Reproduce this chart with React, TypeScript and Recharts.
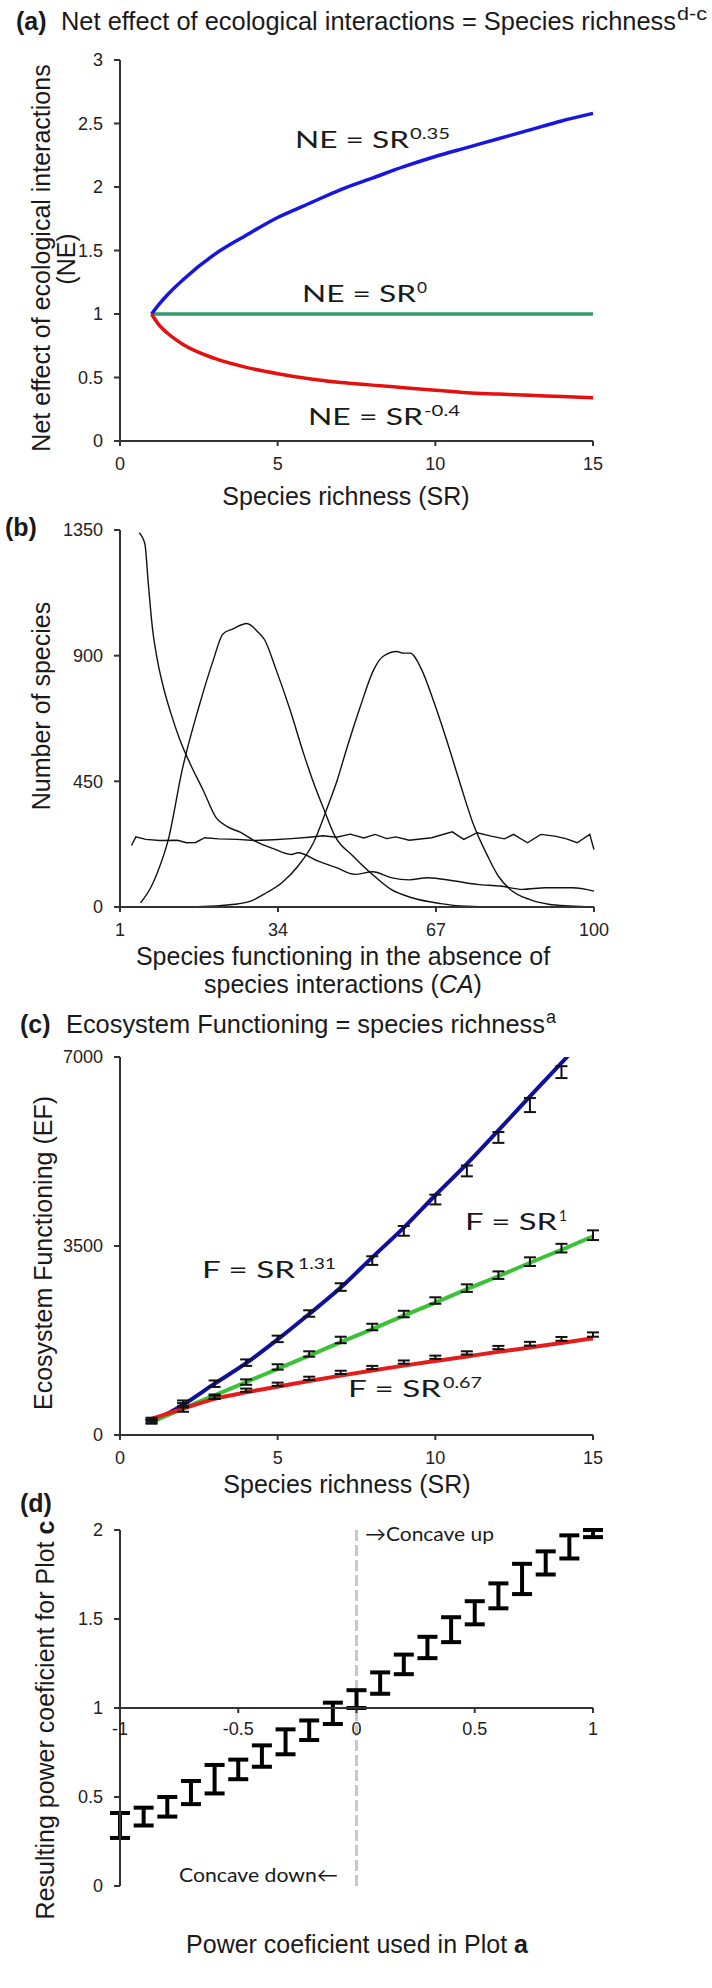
import React from "react"
import { LineChart, ComposedChart, Line, Scatter, ErrorBar, XAxis, YAxis, ReferenceLine } from "recharts"

// ---- (a) net effect of interactions vs species richness
const aSR = [1, 1.25, 1.5, 2, 3, 4, 5, 6, 7, 8, 9, 10, 11, 12, 13, 14, 15]
const aPositive = [1, 1.08, 1.15, 1.27, 1.47, 1.62, 1.76, 1.87, 1.98, 2.07, 2.16, 2.24, 2.31, 2.38, 2.45, 2.52, 2.58]
const aNeutral = [1, 1, 1, 1, 1, 1, 1, 1, 1, 1, 1, 1, 1, 1, 1, 1, 1]
const aNegative = [1, 0.91, 0.85, 0.76, 0.65, 0.58, 0.53, 0.49, 0.46, 0.44, 0.42, 0.4, 0.38, 0.37, 0.36, 0.35, 0.34]

// ---- (b) distributions of CA (one x list per curve)
const bDecayX = [5, 6.2, 6.9, 7.8, 8.8, 10.2, 11.6, 13.5, 15.9, 18.3, 21.1, 23.5, 26.3, 29.2, 33, 36.8, 38.2, 42.4, 46.2, 50, 53.8, 57.6, 61.4, 65.2, 70.9, 75.6, 80.4, 85.1, 89.9, 95.5, 100]
const bDecayY = [1340, 1300, 1160, 995, 885, 778, 695, 599, 504, 421, 319, 287, 266, 236, 209, 188, 194, 164, 141, 117, 126, 105, 97, 105, 93, 81, 75, 63, 69, 69, 57]
const bLowX = [5.3, 7.4, 8.8, 11.1, 14, 17.5, 20.5, 22.5, 24.5, 27.5, 29.8, 31.2, 33.6, 36.5, 39.3, 41.2, 43.6, 45.9, 49.7, 53.3, 57.6, 62, 68, 72, 80, 100]
const bLowY = [15, 69, 123, 242, 492, 718, 885, 978, 995, 1015, 985, 957, 850, 707, 552, 456, 349, 254, 182, 123, 63, 33, 12, 4, 0, 0]
const bHighX = [1, 17, 25, 28.3, 31.6, 34.8, 38.2, 41.4, 44.4, 46.4, 48.3, 51.2, 54, 55.9, 58.8, 60.2, 61.6, 64, 66.4, 69.2, 72, 74.7, 77.8, 80, 82.5, 86.5, 90.5, 95, 100]
const bHighY = [0, 1, 10, 21, 51, 87, 147, 230, 361, 456, 564, 718, 850, 897, 915, 909, 909, 850, 742, 599, 444, 301, 182, 111, 63, 27, 10, 4, 1]
const bFlatX = [3.4, 4.3, 6.4, 9.3, 13, 14.9, 16.8, 18.7, 21.6, 25.4, 29.2, 33, 36.8, 40.5, 43.4, 46.2, 49.1, 51.9, 54.3, 56.7, 58.6, 61.4, 66.1, 70.4, 72.8, 75.6, 78.5, 81.3, 83.2, 86.1, 88.9, 91.8, 94.1, 96.5, 99.1, 100]
const bFlatY = [220, 251, 242, 238, 239, 230, 231, 248, 244, 242, 238, 241, 245, 250, 255, 250, 261, 247, 260, 245, 251, 239, 248, 269, 242, 266, 254, 244, 260, 230, 260, 254, 245, 230, 260, 206]

// ---- (c) ecosystem functioning vs species richness
const cSR = [1, 2, 3, 4, 5, 6, 7, 8, 9, 10, 11, 12, 13, 14, 15]
const cBlueFit = [230, 560, 950, 1330, 1770, 2240, 2730, 3290, 3840, 4440, 5020, 5640, 6270, 6890, 7520]
const cGreenFit = [240, 490, 735, 980, 1225, 1470, 1720, 1960, 2210, 2450, 2700, 2940, 3190, 3430, 3680]
const cRedFit = [300, 490, 670, 790, 895, 1000, 1100, 1195, 1285, 1370, 1455, 1540, 1620, 1705, 1790]
const cBlueMean = [250, 590, 950, 1340, 1780, 2250, 2740, 3230, 3780, 4360, 4890, 5510, 6110, 6720]
const cBlueErr = [40, 50, 60, 60, 60, 60, 70, 80, 90, 90, 100, 100, 130, 110]
const cGreenMean = [250, 470, 710, 980, 1260, 1500, 1760, 2000, 2240, 2490, 2720, 2960, 3210, 3460, 3700]
const cGreenErr = [30, 40, 40, 50, 50, 50, 60, 60, 60, 60, 70, 70, 80, 80, 90]
const cRedMean = [290, 560, 700, 830, 940, 1050, 1160, 1250, 1350, 1440, 1520, 1620, 1690, 1780, 1860]
const cRedErr = [30, 30, 30, 30, 30, 30, 30, 30, 30, 30, 30, 30, 35, 35, 40]

// ---- (d) resulting power coefficient
const dCoef = [-1, -0.9, -0.8, -0.7, -0.6, -0.5, -0.4, -0.3, -0.2, -0.1, 0, 0.1, 0.2, 0.3, 0.4, 0.5, 0.6, 0.7, 0.8, 0.9, 1]
const dLow = [0.27, 0.34, 0.39, 0.46, 0.52, 0.6, 0.67, 0.74, 0.82, 0.91, 1.0, 1.08, 1.19, 1.28, 1.37, 1.47, 1.56, 1.64, 1.75, 1.84, 1.96]
const dHigh = [0.41, 0.44, 0.5, 0.59, 0.68, 0.71, 0.79, 0.88, 0.93, 1.03, 1.1, 1.2, 1.3, 1.4, 1.51, 1.6, 1.7, 1.81, 1.88, 1.97, 2.0]

const zip = (xs: number[], ys: number[]) => xs.map((x, i) => ({ x, y: ys[i] }))

const aData = aSR.map((x, i) => ({ x, pos: aPositive[i], neu: aNeutral[i], neg: aNegative[i] }))
const cFit = cSR.map((x, i) => ({ x, blue: cBlueFit[i], green: cGreenFit[i], red: cRedFit[i] }))
const cBlueBars = cBlueMean.map((y, i) => ({ x: cSR[i], y, err: cBlueErr[i] }))
const cGreenBars = cGreenMean.map((y, i) => ({ x: cSR[i], y, err: cGreenErr[i] }))
const cRedBars = cRedMean.map((y, i) => ({ x: cSR[i], y, err: cRedErr[i] }))
const dBars = dCoef.map((x, i) => ({ x, y: (dLow[i] + dHigh[i]) / 2, err: (dHigh[i] - dLow[i]) / 2 }))

const ARIAL = "'Liberation Sans', Arial, sans-serif"
const EQFONT = "Lato, 'Open Sans', sans-serif"
const tick = { fontSize: 18, fill: "#222", fontFamily: ARIAL }
const axisLine = { stroke: "#333", strokeWidth: 2 }
const noShape = () => <g />

const VLabel = ({ x, y, children }: { x: number; y: number; children: React.ReactNode }) => (
  <text transform={`translate(${x},${y}) rotate(-90)`} textAnchor="middle" fontSize={25}>
    {children}
  </text>
)

const Eq = (p: { x: number; y: number; lhs: string; w: number; sup: string; sx: number; sw: number }) => (
  <>
    <text x={p.x} y={p.y} fontFamily={EQFONT} fontSize={23} textLength={p.w} lengthAdjust="spacingAndGlyphs">
      {p.lhs}
    </text>
    <text x={p.sx} y={p.y - 9} fontFamily={EQFONT} fontSize={16} textLength={p.sw} lengthAdjust="spacingAndGlyphs">
      {p.sup}
    </text>
  </>
)

export default function App() {
  const abs = (top: number): React.CSSProperties => ({ position: "absolute", left: 0, top })
  return (
    <div style={{ position: "absolute", left: 0, top: 0, width: 712, height: 1988, background: "#fff" }}>
      <div style={abs(0)}>
        <LineChart width={712} height={491} data={aData} margin={{ top: 60, right: 119, bottom: 20, left: 0 }}>
          <XAxis dataKey="x" type="number" domain={[0, 15]} ticks={[0, 5, 10, 15]} interval={0} height={30} tickSize={5} tickMargin={11} tick={tick} axisLine={axisLine} tickLine={axisLine} />
          <YAxis type="number" domain={[0, 3]} ticks={[0, 0.5, 1, 1.5, 2, 2.5, 3]} interval={0} width={120} tickSize={6} tickMargin={11} tick={tick} axisLine={axisLine} tickLine={axisLine} />
          <Line dataKey="neu" stroke="#2f9e6a" strokeWidth={3.5} dot={false} type="linear" isAnimationActive={false} />
          <Line dataKey="pos" stroke="#1616e0" strokeWidth={3.5} dot={false} type="monotone" isAnimationActive={false} />
          <Line dataKey="neg" stroke="#e41010" strokeWidth={3.5} dot={false} type="monotone" isAnimationActive={false} />
        </LineChart>
      </div>

      <div style={abs(480)}>
        <LineChart width={712} height={477} margin={{ top: 50, right: 118, bottom: 20, left: 0 }}>
          <XAxis dataKey="x" type="number" domain={[1, 100]} ticks={[1, 34, 67, 100]} interval={0} height={30} tickSize={5} tickMargin={11} tick={tick} axisLine={axisLine} tickLine={axisLine} />
          <YAxis type="number" domain={[0, 1350]} ticks={[0, 450, 900, 1350]} interval={0} width={120} tickSize={6} tickMargin={11} tick={tick} axisLine={axisLine} tickLine={axisLine} />
          <Line data={zip(bFlatX, bFlatY)} dataKey="y" stroke="#111" strokeWidth={1.4} dot={false} type="linear" isAnimationActive={false} />
          <Line data={zip(bDecayX, bDecayY)} dataKey="y" stroke="#111" strokeWidth={1.4} dot={false} type="monotone" isAnimationActive={false} />
          <Line data={zip(bLowX, bLowY)} dataKey="y" stroke="#111" strokeWidth={1.4} dot={false} type="monotone" isAnimationActive={false} />
          <Line data={zip(bHighX, bHighY)} dataKey="y" stroke="#111" strokeWidth={1.4} dot={false} type="monotone" isAnimationActive={false} />
        </LineChart>
      </div>

      <div style={abs(1040)}>
        <ComposedChart width={712} height={445} data={cFit} margin={{ top: 17, right: 119, bottom: 20, left: 0 }}>
          <XAxis dataKey="x" type="number" domain={[0, 15]} ticks={[0, 5, 10, 15]} interval={0} height={30} tickSize={5} tickMargin={11} tick={tick} axisLine={axisLine} tickLine={axisLine} />
          <YAxis type="number" domain={[0, 7000]} ticks={[0, 3500, 7000]} interval={0} allowDataOverflow width={120} tickSize={6} tickMargin={11} tick={tick} axisLine={axisLine} tickLine={axisLine} />
          <Line dataKey="blue" stroke="#10109a" strokeWidth={4} dot={false} type="monotone" isAnimationActive={false} />
          <Line dataKey="green" stroke="#3cc236" strokeWidth={4} dot={false} type="monotone" isAnimationActive={false} />
          <Line dataKey="red" stroke="#e41c1c" strokeWidth={4} dot={false} type="monotone" isAnimationActive={false} />
          <Scatter data={cBlueBars} dataKey="y" shape={noShape} isAnimationActive={false}>
            <ErrorBar dataKey="err" direction="y" width={6} strokeWidth={2} stroke="#111" isAnimationActive={false} />
          </Scatter>
          <Scatter data={cGreenBars} dataKey="y" shape={noShape} isAnimationActive={false}>
            <ErrorBar dataKey="err" direction="y" width={6} strokeWidth={2} stroke="#111" isAnimationActive={false} />
          </Scatter>
          <Scatter data={cRedBars} dataKey="y" shape={noShape} isAnimationActive={false}>
            <ErrorBar dataKey="err" direction="y" width={6} strokeWidth={2} stroke="#111" isAnimationActive={false} />
          </Scatter>
        </ComposedChart>
      </div>

      <div style={abs(1500)}>
        <ComposedChart width={712} height={428} data={dBars} margin={{ top: 30, right: 119, bottom: 42, left: 0 }}>
          <XAxis dataKey="x" type="number" domain={[-1, 1]} hide />
          <YAxis type="number" domain={[0, 2]} ticks={[0, 0.5, 1, 1.5, 2]} interval={0} width={120} tickSize={6} tickMargin={11} tick={tick} axisLine={axisLine} tickLine={axisLine} />
          <ReferenceLine x={0} stroke="#c8c8c8" strokeWidth={3} strokeDasharray="11 4" />
          <Scatter dataKey="y" shape={noShape} isAnimationActive={false}>
            <ErrorBar dataKey="err" direction="y" width={10} strokeWidth={4} stroke="#000" isAnimationActive={false} />
          </Scatter>
        </ComposedChart>
      </div>
      <div style={{ ...abs(1500), pointerEvents: "none" }}>
        <LineChart width={712} height={258} data={dBars} margin={{ top: 30, right: 119, bottom: 20, left: 120 }}>
          <XAxis dataKey="x" type="number" domain={[-1, 1]} ticks={[-1, -0.5, 0, 0.5, 1]} interval={0} height={30} tickSize={5} tickMargin={9} tick={tick} axisLine={axisLine} tickLine={axisLine} />
          <YAxis type="number" domain={[1, 2]} hide />
          <Line dataKey="y" stroke="none" dot={false} isAnimationActive={false} />
        </LineChart>
      </div>

      <svg width={712} height={1988} style={{ position: "absolute", left: 0, top: 0, pointerEvents: "none" }} fontFamily={ARIAL} fill="#1a1a1a">
        {/* (a) */}
        <text x={16} y={30} fontSize={25} fontWeight="bold">(a)</text>
        <text x={61} y={30} fontSize={25} textLength={615} lengthAdjust="spacingAndGlyphs">Net effect of ecological interactions = Species richness</text>
        <text x={677} y={20} fontSize={19} textLength={30} lengthAdjust="spacingAndGlyphs">d-c</text>
        <VLabel x={50} y={258}>Net effect of ecological interactions</VLabel>
        <VLabel x={75} y={259}>(NE)</VLabel>
        <text x={346} y={505} fontSize={25} textAnchor="middle">Species richness (SR)</text>
        <Eq x={295} y={148} lhs="NE = SR" w={114} sup="0.35" sx={410} sw={40} />
        <Eq x={302} y={302} lhs="NE = SR" w={114} sup="0" sx={417} sw={10} />
        <Eq x={308} y={425} lhs="NE = SR" w={115} sup="-0.4" sx={424} sw={36} />

        {/* (b) */}
        <text x={5} y={536} fontSize={25} fontWeight="bold">(b)</text>
        <VLabel x={50} y={706}>Number of species</VLabel>
        <text x={343} y={965} fontSize={25} textAnchor="middle">Species functioning in the absence of</text>
        <text x={343} y={993} fontSize={25} textAnchor="middle">
          species interactions (<tspan fontStyle="italic">CA</tspan>)
        </text>

        {/* (c) */}
        <text x={20} y={1033} fontSize={25} fontWeight="bold">(c)</text>
        <text x={66} y={1033} fontSize={25} textLength={479} lengthAdjust="spacingAndGlyphs">Ecosystem Functioning = species richness</text>
        <text x={546} y={1023} fontSize={18}>a</text>
        <VLabel x={52} y={1253}>Ecosystem Functioning (EF)</VLabel>
        <text x={347} y={1493} fontSize={25} textAnchor="middle">Species richness (SR)</text>
        <Eq x={202} y={1278} lhs="F = SR" w={93} sup="1.31" sx={298} sw={38} />
        <Eq x={465} y={1230} lhs="F = SR" w={92} sup="1" sx={559} sw={8} />
        <Eq x={348} y={1397} lhs="F = SR" w={93} sup="0.67" sx={443} sw={39} />

        {/* (d) */}
        <text x={20} y={1512} fontSize={25} fontWeight="bold">(d)</text>
        <VLabel x={54} y={1720}>
          Resulting power coeficient for Plot <tspan fontWeight="bold">c</tspan>
        </VLabel>
        <text x={365} y={1541} fontFamily={EQFONT} fontSize={20} textLength={129} lengthAdjust="spacingAndGlyphs">→Concave up</text>
        <text x={179} y={1882} fontFamily={EQFONT} fontSize={20} textLength={159} lengthAdjust="spacingAndGlyphs">Concave down←</text>
        <text x={357} y={1953} fontSize={25} textAnchor="middle">
          Power coeficient used in Plot <tspan fontWeight="bold">a</tspan>
        </text>
      </svg>
    </div>
  )
}
